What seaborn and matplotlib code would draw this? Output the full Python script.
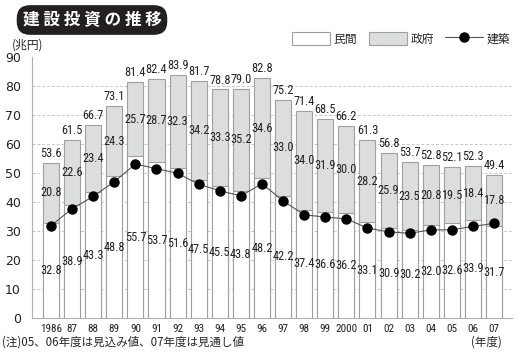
import numpy as np
import pandas as pd
import matplotlib
matplotlib.use("Agg")
import matplotlib.pyplot as plt
import seaborn as sns
from matplotlib.patches import Patch
from matplotlib.lines import Line2D
from matplotlib import font_manager

years = ["1986", "87", "88", "89", "90", "91", "92", "93", "94", "95", "96",
         "97", "98", "99", "2000", "01", "02", "03", "04", "05", "06", "07"]
private = [32.8, 38.9, 43.3, 48.8, 55.7, 53.7, 51.6, 47.5, 45.5, 43.8, 48.2,
           42.2, 37.4, 36.6, 36.2, 33.1, 30.9, 30.2, 32.0, 32.6, 33.9, 31.7]
government = [20.8, 22.6, 23.4, 24.3, 25.7, 28.7, 32.3, 34.2, 33.3, 35.2, 34.6,
              33.0, 34.0, 31.9, 30.0, 28.2, 25.9, 23.5, 20.8, 19.5, 18.4, 17.8]
total = [53.6, 61.5, 66.7, 73.1, 81.4, 82.4, 83.9, 81.7, 78.8, 79.0, 82.8,
         75.2, 71.4, 68.5, 66.2, 61.3, 56.8, 53.7, 52.8, 52.1, 52.3, 49.4]
building = [31.8, 37.7, 41.9, 47.0, 53.1, 51.5, 49.9, 46.1, 43.9, 42.1, 46.3,
            40.4, 35.6, 34.8, 34.2, 31.0, 29.7, 29.2, 30.4, 30.4, 31.6, 32.6]

df = pd.DataFrame({"year": years, "private": private,
                   "government": government, "total": total})

sns.set_theme(style="white")
plt.rcParams["font.family"] = ["Noto Sans CJK JP", "DejaVu Sans"]

# narrow digits for the value labels
names = {f.name for f in font_manager.fontManager.ttflist}
num_fp = dict(family="DejaVu Sans", stretch="condensed")
for cand in ["Roboto Condensed", "PT Sans Narrow", "Archivo Narrow",
             "Fira Sans Condensed"]:
    if cand in names:
        num_fp = dict(family=cand)
        break

gray = "#dcdddd"
edge = "#a0a0a0"

fig = plt.figure(figsize=(5.2, 3.6), dpi=100)
ax = fig.add_axes([32 / 520, 1 - 318 / 360, 480 / 520, 261 / 360])

for v in range(10, 90, 10):
    ax.axhline(v, color="#c8c8c8", lw=0.7, ls=(0, (3, 2)), zorder=0)

sns.barplot(data=df, x="year", y="total", color=gray, edgecolor=edge,
            linewidth=0.8, width=0.76, saturation=1, ax=ax, zorder=2)
sns.barplot(data=df, x="year", y="private", color="white", edgecolor=edge,
            linewidth=0.8, width=0.76, saturation=1, ax=ax, zorder=3)

xs = np.arange(len(years))
ax.plot(xs, building, color="#555555", lw=0.8, marker="o", ms=6.5,
        mfc="black", mec="black", zorder=5)

lab = dict(ha="center", fontsize=8.8, color="#222222", zorder=6, **num_fp)
for i in range(len(years)):
    ax.text(i, private[i] / 2, f"{private[i]:.1f}", va="center", **lab)
    ax.text(i, (private[i] + total[i]) / 2, f"{government[i]:.1f}",
            va="center", **lab)
    ax.text(i, total[i] + 1.0, f"{total[i]:.1f}", va="bottom", **lab)

ax.set_xlim(-0.9, len(years) - 1 + 0.85)
ax.set_ylim(0, 90)
ax.set_yticks(range(0, 91, 10))
ax.set_yticklabels([str(v) for v in range(0, 91, 10)], fontsize=9,
                   family=["DejaVu Sans"])
ax.set_xticks(xs)
ax.set_xticklabels(years, fontsize=8, **num_fp)
ax.tick_params(axis="both", length=0, pad=4, colors="#222222")
ax.tick_params(axis="y", pad=8)
ax.set_xlabel("")
ax.set_ylabel("")
for s in ["top", "right"]:
    ax.spines[s].set_visible(False)
for s in ["left", "bottom"]:
    ax.spines[s].set_color("#b0b0b0")
    ax.spines[s].set_linewidth(0.8)

fig.text(92 / 520, 1 - 20 / 360, "建 設 投 資 の 推 移", ha="center", va="center",
         fontsize=12, fontweight="bold", color="white",
         bbox=dict(boxstyle="round,pad=0.35,rounding_size=0.8",
                   fc="#231f20", ec="none"))
fig.text(12 / 520, 1 - 45 / 360, "(兆円)", ha="left", va="center", fontsize=8.5)
fig.text(2 / 520, 1 - 342 / 360, "(注)05、06年度は見込み値、07年度は見通し値",
         ha="left", va="center", fontsize=8.3)
fig.text(502 / 520, 1 - 342 / 360, "(年度)", ha="right", va="center", fontsize=8.3)

handles = [Patch(fc="white", ec=edge, lw=0.8),
           Patch(fc=gray, ec=edge, lw=0.8),
           Line2D([], [], color="#555555", lw=0.8, marker="o", ms=6.5,
                  mfc="black", mec="black")]
fig.legend(handles, ["民間", "政府", "建築"], ncol=3, frameon=False,
           loc="center right", bbox_to_anchor=(515 / 520, 1 - 39 / 360),
           borderaxespad=0, fontsize=8.5, handlelength=3.2, handleheight=1.2,
           columnspacing=1.0, handletextpad=0.3)

fig.savefig("out.png", dpi=100)
